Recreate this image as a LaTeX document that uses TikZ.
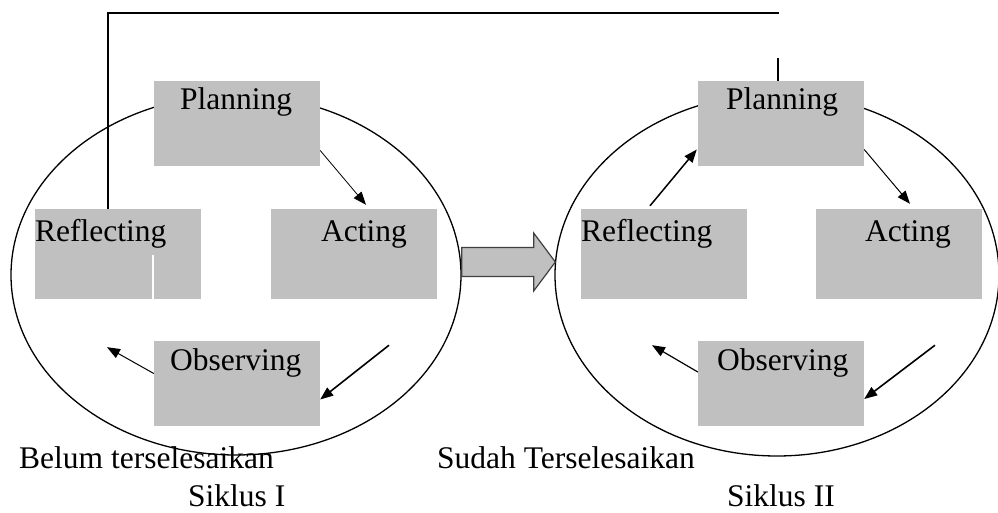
\documentclass[tikz,border=0pt]{standalone}
\usepackage{fontspec}
\setmainfont{Liberation Serif}
\usetikzlibrary{arrows.meta}
\usetikzlibrary{shapes.geometric}
\usetikzlibrary{calc}
\tikzset{stage/.style = {fill = boxgray, inner sep = 0, minimum width = 166}}
\tikzset{lbl/.style = {anchor = base west, inner sep = 0, font = \fontsize{31.5}{36}\selectfont}}
\tikzset{cycle/.style = {draw, ellipse, inner sep = 0, line width = 1.3pt}}
\tikzset{flow/.style = {-{Triangle[length = 13pt, width = 10pt]}}}
\definecolor{boxgray}{RGB}{192, 192, 192}
\definecolor{edgegray}{RGB}{64, 64, 64}

\begin{document}
\begin{tikzpicture}[x = 1pt, y = -1pt]
  \useasboundingbox (0, 0) rectangle (998, 513);

  % Siklus I
  \node [cycle, minimum width = 450, minimum height = 360] (e1) at (236, 275) {};
  \node [stage, minimum height = 85] (p1) at (237, 123.5) {};
  \node [stage, minimum height = 90] (r1) at (118, 254) {};
  \node [stage, minimum height = 90] (a1) at (354, 254) {};
  \node [stage, minimum height = 85] (o1) at (237, 383.5) {};
  \draw [white, line width = 1.2pt] ([xshift = 35pt]r1.south) -- ++(0, -44);

  \node [lbl] (tp1) at (180, 110) {Planning};
  \node [lbl] (tr1) at (35, 241) {Reflecting};
  \node [lbl] (ta1) at (321, 241) {Acting};
  \node [lbl] (to1) at (170, 370) {Observing};

  \draw [flow, line width = 0.8pt] ([yshift = -27pt]p1.east) -- ([xshift = 12pt, yshift = 4pt]a1.north);
  \draw [flow, line width = 1.6pt] ([xshift = 35pt, yshift = -46pt]a1.south) -- ([yshift = -16pt]o1.east);
  \draw [flow, line width = 1pt] ([yshift = 10pt]o1.west) -- ([xshift = -11pt, yshift = -48pt]r1.south);

  % Siklus II
  \node [cycle, minimum width = 444, minimum height = 362] (e2) at (777, 275) {};
  \node [stage, minimum height = 85] (p2) at (781, 123.5) {};
  \node [stage, minimum height = 90] (r2) at (664, 254) {};
  \node [stage, minimum height = 90] (a2) at (899, 254) {};
  \node [stage, minimum height = 85] (o2) at (781, 383.5) {};

  \node [lbl] (tp2) at (726, 110) {Planning};
  \node [lbl] (tr2) at (581, 241) {Reflecting};
  \node [lbl] (ta2) at (865, 241) {Acting};
  \node [lbl] (to2) at (717, 370) {Observing};

  \draw [flow, line width = 1.5pt] ([xshift = -14pt, yshift = 3pt]r2.north) -- ([xshift = -1pt, yshift = -26pt]p2.west);
  \draw [flow, line width = 1pt] ([yshift = -26pt]p2.east) -- ([xshift = 11pt, yshift = 5pt]a2.north);
  \draw [flow, line width = 1.6pt] ([xshift = 36pt, yshift = -46pt]a2.south) -- ([yshift = -15.5pt]o2.east);
  \draw [flow, line width = 1.2pt] ([yshift = 11.5pt]o2.west) -- ([xshift = -12pt, yshift = -46pt]r2.south);

  % feedback line
  \draw [line width = 2pt] ([xshift = 73pt]r1.north west) -- ++(0, -196) -- ++(671, 0);
  \draw [line width = 2pt] ([xshift = -3pt]p2.north) -- ++(0, -23);

  % block arrow
  \coordinate (bs) at ([yshift = 13pt]e1.east);
  \coordinate (bt) at ([yshift = 13pt, xshift = 1pt]e2.west);
  \draw [fill = boxgray, draw = edgegray, line width = 1.2pt]
    ($(bs) + (0, -14.5)$) -- ($(bs) + (72, -14.5)$) -- ($(bs) + (72, -29)$) -- (bt)
    -- ($(bs) + (72, 29)$) -- ($(bs) + (72, 14.5)$) -- ($(bs) + (0, 14.5)$) -- cycle;

  \node [lbl] (b1) at (19, 468) {Belum terselesaikan};
  \node [lbl] (b2) at (437, 468) {Sudah Terselesaikan};
  \node [lbl] (s1) at (188, 506) {Siklus I};
  \node [lbl] (s2) at (727, 506) {Siklus II};
\end{tikzpicture}
\end{document}
